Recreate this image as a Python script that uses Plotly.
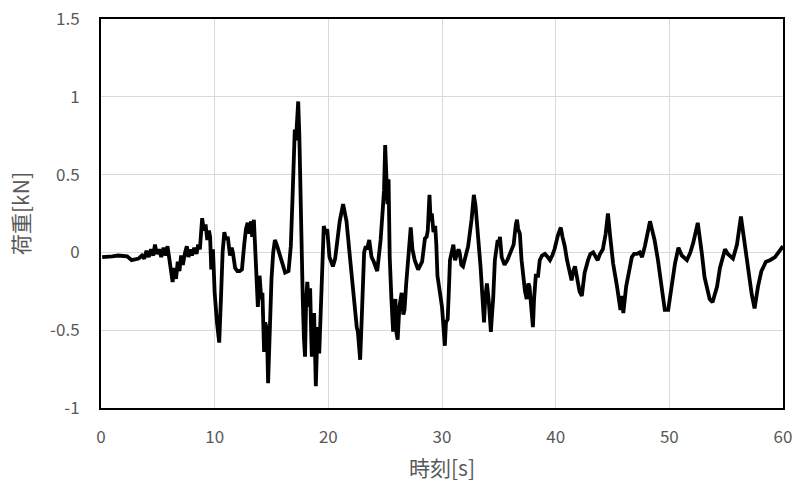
import plotly.graph_objects as go

# Time [s] and load [kN]
time_s = [0.1, 0.5, 1.0, 1.5, 2.0, 2.3, 2.7, 3.0, 3.3, 3.6, 3.8, 4.0, 4.2, 4.4, 4.6, 4.75, 4.9, 5.1, 5.3, 5.5,
          5.7, 5.85, 6.0, 6.15, 6.3, 6.45, 6.6, 6.75, 6.9, 7.05, 7.2, 7.4, 7.55, 7.7, 7.9, 8.0, 8.2, 8.4, 8.55, 8.7,
          8.9, 9.05, 9.2, 9.35, 9.5, 9.6, 9.7, 9.85, 10.0, 10.2, 10.4, 10.55, 10.7, 10.85, 11.0, 11.15, 11.35, 11.5, 11.6, 11.8,
          12.0, 12.2, 12.4, 12.6, 12.75, 12.9, 13.05, 13.2, 13.3, 13.45, 13.6, 13.7, 13.8, 13.95, 14.1, 14.2, 14.35, 14.45, 14.6, 14.7,
          14.85, 15.0, 15.15, 15.3, 15.5, 15.75, 16.0, 16.2, 16.5, 16.7, 16.85, 16.95, 17.05, 17.15, 17.25, 17.35, 17.45, 17.55, 17.65, 17.75,
          17.85, 17.95, 18.05, 18.15, 18.3, 18.4, 18.5, 18.55, 18.65, 18.75, 18.85, 18.9, 19.0, 19.1, 19.2, 19.3, 19.45, 19.6, 19.75, 19.9,
          20.1, 20.4, 20.6, 20.8, 21.0, 21.3, 21.45, 21.6, 21.9, 22.1, 22.3, 22.5, 22.6, 22.7, 22.8, 22.95, 23.15, 23.3, 23.4, 23.6,
          23.8, 24.0, 24.3, 24.45, 24.6, 24.8, 24.9, 25.0, 25.1, 25.2, 25.3, 25.4, 25.55, 25.7, 25.8, 25.9, 26.0, 26.1, 26.25, 26.45,
          26.6, 26.7, 26.85, 27.0, 27.15, 27.25, 27.4, 27.6, 27.9, 28.1, 28.25, 28.4, 28.5, 28.65, 28.75, 28.85, 28.9, 29.0, 29.1, 29.25,
          29.4, 29.5, 29.6, 29.8, 30.0, 30.1, 30.25, 30.35, 30.5, 30.6, 30.7, 30.85, 31.0, 31.15, 31.3, 31.45, 31.55, 31.7, 31.85, 32.0,
          32.3, 32.6, 32.8, 32.95, 33.05, 33.25, 33.4, 33.5, 33.6, 33.7, 33.8, 33.95, 34.1, 34.2, 34.3, 34.4, 34.5, 34.65, 34.8, 34.9,
          35.0, 35.1, 35.25, 35.5, 35.75, 36.0, 36.3, 36.5, 36.6, 36.7, 36.85, 37.0, 37.1, 37.3, 37.45, 37.6, 37.7, 37.85, 38.0, 38.1,
          38.25, 38.45, 38.6, 38.8, 39.05, 39.3, 39.5, 39.7, 39.9, 40.2, 40.45, 40.6, 40.8, 41.0, 41.1, 41.25, 41.4, 41.55, 41.7, 41.85,
          41.95, 42.1, 42.3, 42.55, 42.85, 43.05, 43.3, 43.5, 43.7, 43.9, 44.15, 44.4, 44.6, 44.8, 45.05, 45.4, 45.6, 45.7, 45.85, 45.95,
          46.2, 46.35, 46.7, 46.9, 47.15, 47.4, 47.6, 47.85, 48.1, 48.3, 48.5, 48.7, 49.0, 49.2, 49.4, 49.6, 49.9, 50.2, 50.5, 50.8,
          51.1, 51.55, 51.85, 52.1, 52.5, 52.85, 53.1, 53.55, 53.8, 54.2, 54.45, 54.9, 55.15, 55.6, 55.95, 56.3, 56.55, 56.9, 57.25, 57.5,
          57.8, 58.1, 58.5, 58.85, 59.3, 59.7, 60.0]
load_kN = [-0.03, -0.03, -0.025, -0.02, -0.02, -0.025, -0.05, -0.045, -0.04, -0.02, -0.04, 0.01, -0.03, 0.02, -0.02, 0.05, -0.01, 0.02, -0.03, 0.03,
           -0.02, 0.04, -0.05, -0.12, -0.19, -0.1, -0.17, -0.06, -0.12, -0.02, -0.08, 0.0, 0.04, -0.03, 0.02, -0.02, 0.03, -0.01, 0.05, 0.02,
           0.22, 0.14, 0.18, 0.08, 0.14, 0.1, -0.11, 0.02, -0.26, -0.45, -0.58, -0.3, 0.0, 0.13, 0.08, 0.1, -0.02, 0.03, 0.0, -0.1,
           -0.12, -0.12, -0.11, 0.05, 0.15, 0.19, 0.12, 0.2, 0.1, 0.21, 0.0, -0.1, -0.35, -0.15, -0.3, -0.26, -0.64, -0.45, -0.5, -0.84,
           -0.45, -0.17, 0.0, 0.08, 0.04, -0.02, -0.1, -0.13, -0.12, 0.04, 0.35, 0.53, 0.79, 0.72, 0.83, 0.97, 0.75, 0.3, -0.05, -0.3,
           -0.55, -0.67, -0.3, -0.19, -0.35, -0.23, -0.55, -0.67, -0.45, -0.39, -0.7, -0.86, -0.6, -0.48, -0.65, -0.44, -0.1, 0.17, 0.12, 0.15,
           -0.03, -0.09, -0.04, 0.08, 0.2, 0.31, 0.26, 0.2, -0.03, -0.2, -0.34, -0.48, -0.51, -0.6, -0.69, -0.4, 0.0, 0.04, 0.02, 0.08,
           -0.03, -0.06, -0.12, -0.02, 0.08, 0.29, 0.4, 0.69, 0.45, 0.31, 0.47, -0.03, -0.3, -0.51, -0.35, -0.3, -0.52, -0.56, -0.35, -0.26,
           -0.4, -0.37, -0.2, -0.05, 0.1, 0.16, 0.02, -0.05, -0.11, -0.08, -0.06, 0.03, 0.09, 0.1, 0.14, 0.3, 0.37, 0.2, 0.25, 0.13,
           0.17, 0.05, -0.15, -0.25, -0.35, -0.45, -0.6, -0.45, -0.43, -0.25, -0.05, 0.0, 0.05, -0.05, -0.02, 0.02, 0.0, -0.08, -0.09, -0.05,
           0.04, 0.21, 0.37, 0.3, 0.21, 0.1, -0.1, -0.22, -0.35, -0.45, -0.3, -0.2, -0.3, -0.45, -0.51, -0.4, -0.3, -0.05, 0.05, 0.08,
           0.05, 0.1, -0.03, -0.08, -0.05, 0.0, 0.05, 0.18, 0.21, 0.15, 0.12, -0.05, -0.13, -0.25, -0.3, -0.2, -0.22, -0.35, -0.48, -0.3,
           -0.15, -0.15, -0.05, -0.02, -0.01, -0.03, -0.05, -0.02, 0.02, 0.11, 0.16, 0.1, 0.04, -0.05, -0.09, -0.15, -0.18, -0.12, -0.09, -0.15,
           -0.2, -0.25, -0.28, -0.13, -0.05, -0.01, 0.0, -0.02, -0.05, -0.01, 0.02, 0.12, 0.25, 0.1, -0.07, -0.22, -0.33, -0.37, -0.28, -0.39,
           -0.22, -0.16, -0.03, -0.01, -0.01, 0.0, -0.03, 0.04, 0.12, 0.2, 0.14, 0.08, -0.05, -0.16, -0.27, -0.37, -0.37, -0.22, -0.07, 0.03,
           -0.02, -0.05, 0.0, 0.06, 0.19, 0.0, -0.16, -0.3, -0.32, -0.22, -0.1, 0.02, -0.01, -0.04, 0.05, 0.23, 0.1, -0.1, -0.27, -0.36,
           -0.22, -0.12, -0.06, -0.05, -0.03, 0.01, 0.04]

x_tick_vals = [0, 10, 20, 30, 40, 50, 60]
x_tick_text = ["0", "10", "20", "30", "40", "50", "60"]
y_tick_vals = [-1, -0.5, 0, 0.5, 1, 1.5]
y_tick_text = ["-1", "-0.5", "0", "0.5", "1", "1.5"]

fig = go.Figure()
fig.add_trace(go.Scatter(x=time_s, y=load_kN, mode="lines",
                         line=dict(color="black", width=3.8), showlegend=False))

font_family = "Noto Sans CJK JP, Noto Sans, sans-serif"
fig.update_layout(
    width=797, height=493,
    margin=dict(l=101, r=14, t=19, b=85),
    paper_bgcolor="white", plot_bgcolor="white",
    font=dict(family=font_family, color="#595959", size=17),
    xaxis=dict(range=[0, 60], tickvals=x_tick_vals, ticktext=x_tick_text,
               showgrid=True, gridcolor="#d9d9d9", gridwidth=1,
               showline=True, linecolor="black", linewidth=2, mirror=True,
               zeroline=False, ticks="", ticklabelstandoff=13,
               ticklabeloverflow="allow",
               title=dict(text="時刻[s]", font=dict(size=21, color="#595959"), standoff=14),
               automargin=False),
    yaxis=dict(range=[-1, 1.5], tickvals=y_tick_vals, ticktext=y_tick_text,
               showgrid=True, gridcolor="#d9d9d9", gridwidth=1,
               showline=True, linecolor="black", linewidth=2, mirror=True,
               zeroline=False, ticks="", ticklabelstandoff=16,
               ticklabeloverflow="allow",
               title=dict(text="荷重[kN]", font=dict(size=21, color="#595959"), standoff=15),
               automargin=False),
)

fig.write_html("out.html", config={"displayModeBar": False},
               post_script="document.body.style.margin='0';document.body.style.overflow='hidden';")
